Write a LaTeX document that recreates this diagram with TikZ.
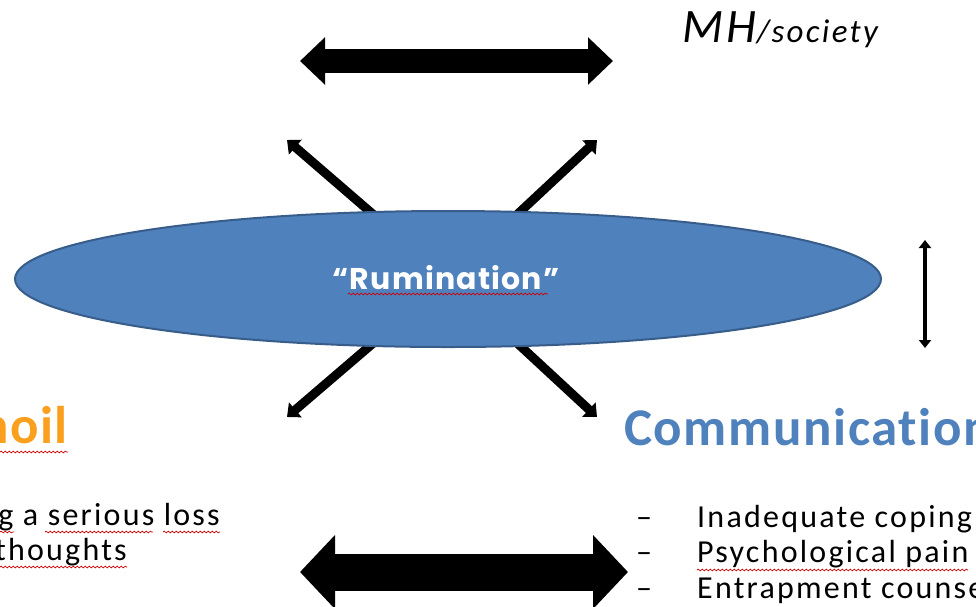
\documentclass[tikz,border=0pt]{standalone}
\usepackage{fontspec}
\setmainfont{Carlito}[LetterSpace=7, Ligatures=NoCommon]
\newfontfamily\headfont{Carlito}[LetterSpace=3, Ligatures=NoCommon]
\newfontfamily\rumfont{Poppins}[LetterSpace=4]
\usetikzlibrary{arrows.meta,shapes.geometric,decorations.pathmorphing}
\definecolor{ellfill}{RGB}{79,129,189}
\definecolor{elldraw}{RGB}{56,93,138}
\definecolor{commblue}{RGB}{79,129,189}
\definecolor{turmorange}{RGB}{250,160,30}
\begin{document}
\begin{tikzpicture}[x=1pt,y=-1pt,
  blockarrow/.style n args={3}{line width=#1, arrows={Triangle[width=#2,length=#3]-Triangle[width=#2,length=#3]}},
  diagarrow/.style={line width=9pt, arrows={-Triangle[width=19pt,length=11pt]}},
  thinarrow/.style={line width=4.5pt, arrows={Triangle[width=12pt,length=8pt]-Triangle[width=12pt,length=8pt]}},
  squiggle/.style={draw=red!80!black, line width=0.7pt, decorate, decoration={snake, segment length=4pt, amplitude=0.9pt}},
  bodytext/.style={font=\fontsize{32}{36}\selectfont, inner sep=0pt, text=black},
  headtext/.style={font=\headfont\fontsize{53}{58}\selectfont\bfseries, inner sep=0pt}
]
\useasboundingbox (0,0) rectangle (976,606);
\clip (0,0) rectangle (976,606);

% big horizontal arrows
\coordinate (tl) at (300,61);
\coordinate (tr) at (613,61);
\draw[blockarrow={24pt}{46pt}{25pt}] (tl) -- (tr);
\coordinate (bl) at (300,572);
\coordinate (br) at (628,572);
\draw[blockarrow={37pt}{72pt}{35pt}] (bl) -- (br);

% X arrows behind the ellipse
\coordinate (c) at (448,279);
\coordinate (ul) at (287,140);
\coordinate (ur) at (597,140);
\coordinate (ll) at (287,417);
\coordinate (lr) at (597,417);
\draw[diagarrow] (c) -- (ul);
\draw[diagarrow] (c) -- (ur);
\draw[diagarrow] (c) -- (ll);
\draw[diagarrow] (c) -- (lr);

% ellipse
\node[ellipse, minimum width=866pt, minimum height=136pt, inner sep=0pt,
      fill=ellfill, draw=elldraw, line width=2pt] (ell) at (c) {};
\node[font=\rumfont\bfseries\fontsize{30}{34}\selectfont, text=white, inner sep=0pt] (rum) at (446,278) {“Rumination”};
\draw[squiggle] (348,294) -- (548,294);

% vertical arrow
\coordinate (vt) at (925,240);
\coordinate (vb) at (925,348);
\draw[thinarrow] (vt) -- (vb);

% MH/society
\node[anchor=base west, inner sep=0pt, font=\itshape\fontsize{48}{52}\selectfont] (mh) at (682,42) {MH};
\node[anchor=base west, inner sep=0pt, font=\itshape\fontsize{33}{36}\selectfont] (soc) at (mh.base east) {/society};

% headings
\node[headtext, text=turmorange, anchor=base east] (turm) at (68,443) {noil};
\draw[squiggle] (0,452) -- (68,452);
\node[headtext, text=commblue, anchor=base west] (comm) at (624,445) {Communication};

% left bullets
\node[bodytext, anchor=base east] (l1) at (220,525) {g a serious loss};
\node[bodytext, anchor=base east] (l2) at (127,560) {thoughts};
\draw[squiggle] (0,532) -- (14,532);
\draw[squiggle] (45,532) -- (153,532);
\draw[squiggle] (163,532) -- (220,532);
\draw[squiggle] (0,567) -- (127,567);

% right bullets
\node[bodytext, anchor=base west] (d1) at (636,527) {–};
\node[bodytext, anchor=base west] (r1) at (697,527) {Inadequate coping};
\node[bodytext, anchor=base west] (d2) at (636,562) {–};
\node[bodytext, anchor=base west] (r2) at (697,562) {Psychological pain};
\draw[squiggle] (697,570) -- (968,570);
\node[bodytext, anchor=base west] (d3) at (636,598) {–};
\node[bodytext, anchor=base west] (r3) at (697,598) {Entrapment counselling};
\end{tikzpicture}
\end{document}
